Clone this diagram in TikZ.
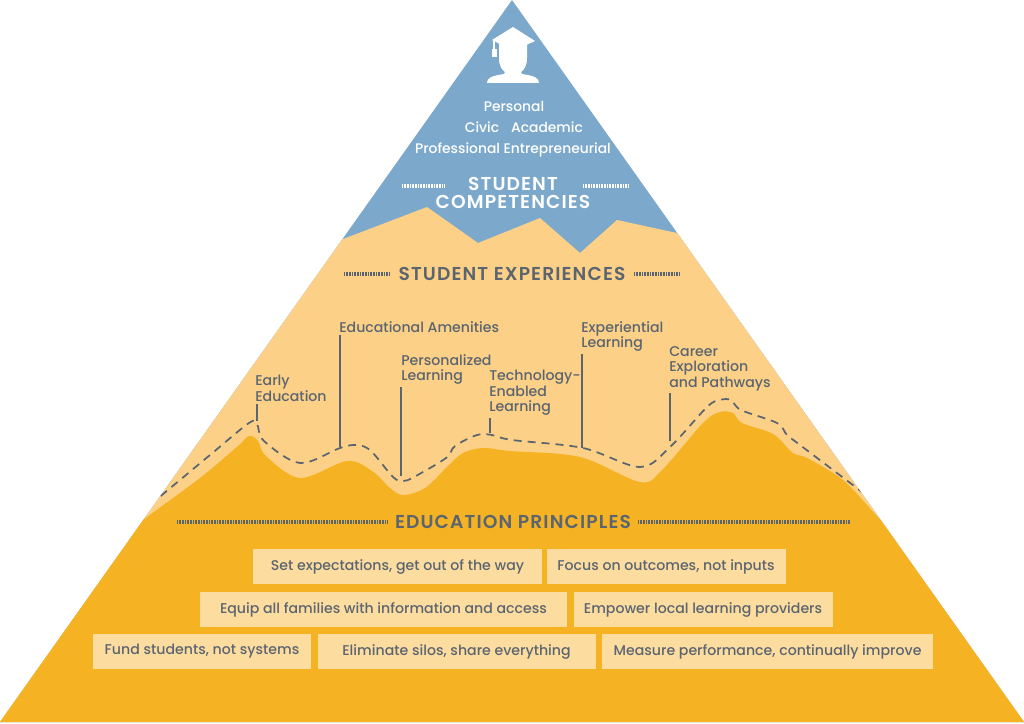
\documentclass[tikz,border=0pt]{standalone}
\usepackage{fontspec}
\setmainfont{Poppins}[UprightFont={* Medium}, BoldFont={* SemiBold}]
\usetikzlibrary{positioning}
\definecolor{peakblue}{HTML}{7CA9CB}
\definecolor{expyellow}{HTML}{FCD087}
\definecolor{baseorange}{HTML}{F5B223}
\definecolor{boxfill}{HTML}{FDDCA0}
\definecolor{slate}{HTML}{5B6570}
\tikzset{
	x=0.75pt, y=-0.75pt, % one unit is one pixel of the reference, y runs down
	title/.style={font=\fontsize{14}{13.5}\selectfont\bfseries\addfontfeatures{LetterSpace=6}, text=slate, inner sep=0pt, align=center},
	skill/.style={font=\fontsize{10.4}{11}\selectfont, text=white, inner sep=0pt},
	hatchbar/.style={slate, line width=3pt, dash pattern=on 0.6pt off 0.6pt},
	tag/.style={font=\fontsize{10.6}{11.6}\selectfont, text=slate, inner sep=0pt, align=left, anchor=north west},
	pin/.style={slate, line width=1.6pt},
	trail/.style={slate, line width=1.3pt, dash pattern=on 6pt off 4.5pt},
	principle/.style={fill=boxfill, font=\fontsize{10.6}{10}\selectfont, text=slate, minimum height=26.25pt, inner sep=0pt},
}
\begin{document}
\begin{tikzpicture}
	\useasboundingbox (0,0) rectangle (1024,724);
	% the three layers of the pyramid
	\begin{scope}
		\clip (512,0) -- (1024,722) -- (0,722) -- cycle;
		\fill[peakblue] (0,0) rectangle (1024,724);
		\fill[expyellow] (330,244) -- (427,207) -- (478,243) -- (540,218) -- (580,253) -- (617,220) -- (700,238)
			-- (1100,800) -- (-100,800) -- cycle;
		\fill[baseorange] plot[smooth, tension=0.55] coordinates {(110,545) (147,517) (200,478) (238,446) (249,436) (258,441)
			(266,456) (300,478) (347,461) (372,471) (390,488) (403,495) (425,488) (448,466) (463,453) (483,448)
			(510,451) (580,457) (640,482) (662,470) (703,423) (720,412) (733,413) (742,423) (773,434)
			(793,453) (807,458) (843,480) (876,515) (900,540)}
			-- (1100,800) -- (-100,800) -- cycle;
		\draw[trail] plot[smooth, tension=0.55] coordinates {(150,505) (210,455) (249,423) (257,424) (264,441) (300,463)
			(340,448) (357,445) (371,451) (393,477) (403,481) (414,477) (446,458) (455,446) (477,435)
			(492,435) (512,440) (583,448) (640,467) (670,447) (707,407) (720,400) (731,400) (741,410)
			(777,423) (787,435) (800,445) (870,498)};
	\end{scope}
	% graduate at the top
	\fill[white] (492,40) -- (513,27) -- (535,41) -- (513,51) -- cycle;
	\fill[white] (499,44) -- (527,44) -- (527,58) .. controls (527,66) and (524,70) .. (521,72) -- (522,74)
		.. controls (535,76) and (539,78) .. (539,83) -- (487,83) .. controls (487,78) and (491,76) .. (504,74)
		-- (505,72) .. controls (502,70) and (499,66) .. (499,58) -- cycle;
	\draw[white, line width=0.9pt] (494,41) -- (494,51);
	\fill[white] (492,49) rectangle (496.5,57);
	% student competencies
	\node[skill] (personal) at (514,106) {Personal};
	\node[skill] (civic) at (482,127) {Civic};
	\node[skill] (academic) at (547,127) {Academic};
	\node[skill] (career) at (513,150) {Professional Entrepreneurial};
	\node[title, text=white] (competencies) at (513,193) {STUDENT\\COMPETENCIES};
	\draw[hatchbar, white] (402,186) -- (445,186);
	\draw[hatchbar, white] (583,186) -- (628,186);
	% student experiences
	\node[title] (experiences) at (512,274) {STUDENT EXPERIENCES};
	\draw[hatchbar] (344,274) -- (390,274);
	\draw[hatchbar] (634,274) -- (680,274);
	\node[tag] (early) at (255,375) {Early\\Education};
	\node[tag] (amenities) at (339,321) {Educational Amenities};
	\node[tag] (personalized) at (401,354) {Personalized\\Learning};
	\node[tag] (technology) at (489,370) {Technology-\\Enabled\\Learning};
	\node[tag] (experiential) at (581,321) {Experiential\\Learning};
	\node[tag] (pathways) at (669,346) {Career\\Exploration\\and Pathways};
	\coordinate (early-foot) at (257,421);
	\coordinate (amenities-foot) at (340,447);
	\coordinate (personalized-foot) at (401,476);
	\coordinate (technology-foot) at (490,433);
	\coordinate (experiential-foot) at (582,448);
	\coordinate (pathways-foot) at (670,441);
	\foreach \t in {early, amenities, personalized, technology, experiential, pathways}
		\draw[pin] (\t-foot) -- ([yshift=-1.5pt]\t-foot |- \t.south);
	% education principles
	\node[title] (principles) at (513,522) {EDUCATION PRINCIPLES};
	\draw[hatchbar] (177,522) -- (388,522);
	\draw[hatchbar] (638,522) -- (850,522);
	\node[principle, minimum width=216.75pt] (expect) at (397.5,566.5) {Set expectations, get out of the way};
	\node[principle, minimum width=179.25pt, right=3pt of expect] (outcomes) {Focus on outcomes, not inputs};
	\node[principle, minimum width=275.25pt] (families) at (383.5,609.5) {Equip all families with information and access};
	\node[principle, minimum width=194.25pt, right=4.5pt of families] (providers) {Empower local learning providers};
	\node[principle, minimum width=163.5pt] (fund) at (202,651.5) {Fund students, not systems};
	\node[principle, minimum width=208.5pt, right=4.5pt of fund] (silos) {Eliminate silos, share everything};
	\node[principle, minimum width=248.25pt, right=4.5pt of silos] (measure) {Measure performance, continually improve};
\end{tikzpicture}
\end{document}
